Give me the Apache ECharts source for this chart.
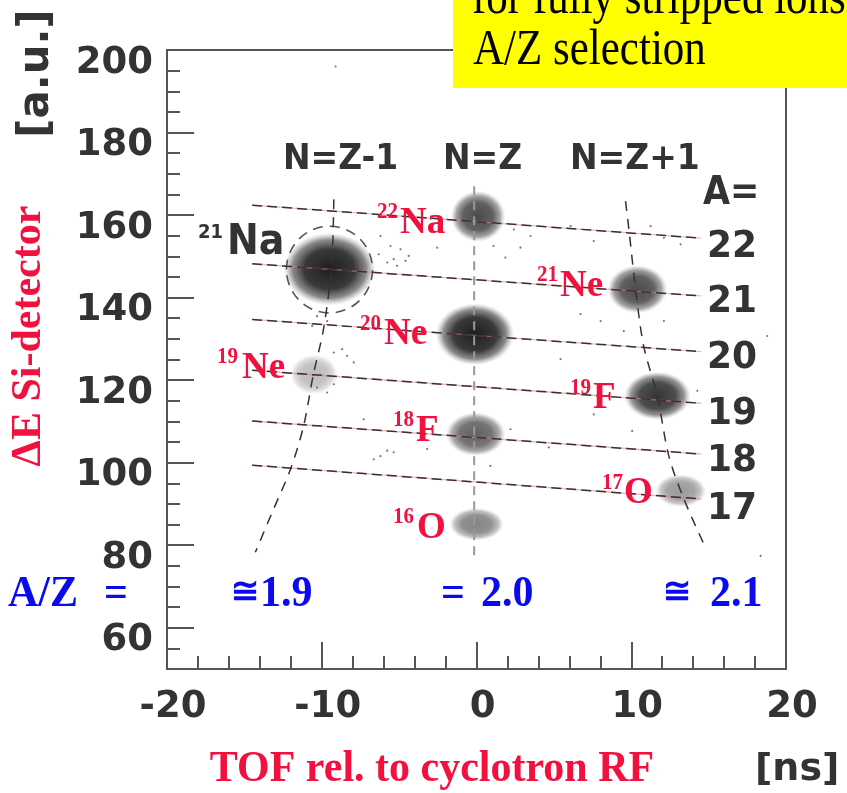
<!DOCTYPE html>
<html><head><meta charset="utf-8">
<script src="https://cdn.jsdelivr.net/npm/echarts@6/dist/echarts.min.js"></script>
<style>html,body{margin:0;padding:0;background:#fff}#c{width:847px;height:793px}</style>
</head><body><div id="c"></div>
<script>
// ---------- data ----------
const isotopes   = ['21Na','22Na','20Ne','21Ne','19Ne','18F','16O','19F','17O'];
const clusterTOF = [-9.5, 0.1, -0.1, 10.4, -10.5, -0.05, 0.0, 11.7, 13.2];
const clusterDE  = [146.9, 159.7, 131.1, 142.0, 121.4, 106.9, 85.1, 116.2, 93.2];
const spreadTOF  = [2.7, 1.6, 2.3, 1.75, 1.4, 1.75, 1.6, 1.95, 1.5];
const spreadDE   = [8.0, 5.6, 6.8, 5.3, 4.4, 4.8, 3.6, 5.3, 3.6];
const intensity  = [1.0, 0.8, 1.0, 0.8, 0.3, 0.7, 0.55, 0.9, 0.45];

const strayTOF = [-6.21,-5.56,-5.35,-4.91,-4.38,-4.59,-5.77,-6.32,-5.13,-2.54,1.10,-10.30,-9.65,-10.62,-9.22,-8.68,-7.93,-8.36,-9.65,-9.22,-10.30,-6.64,-6.21,-5.77,-5.35,-7.29,-3.19,0.90,2.20,2.41,3.49,2.84,1.87,6.08,7.58,11.25,13.19,12.11,6.72,8.02,9.52,12.11,18.79,5.43,10.06,7.58,4.67,14.27,18.36,-9.11];
const strayDE  = [154.9,152.5,149.3,151.7,150.1,148.9,148.5,150.5,147.7,152.1,152.5,135.5,134.3,133.1,126.7,127.5,124.3,125.9,117.0,119.0,118.2,100.8,101.6,102.9,102.5,110.5,103.3,99.2,108.1,156.5,154.9,152.1,149.7,157.3,153.7,157.3,152.9,154.5,136.0,134.3,131.9,134.3,130.7,125.1,107.7,111.7,103.7,117.4,77.4,196.0];

const massNumbers   = [22, 21, 20, 19, 18, 17];
const massLineTOF   = [-14.5, 14.5];
const massLineStart = [162.4, 148.2, 134.7, 122.4, 110.1, 99.4];
const massLineEnd   = [154.4, 140.4, 126.9, 114.4, 102.1, 91.2];

const nzm1TOF = [-9.22, -9.37, -9.89, -10.54, -11.18, -12.02, -13.12, -14.29];
const nzm1DE  = [163.8, 147.3, 132.3, 121.4, 108.8, 98.4, 88.7, 78.3];
const nzTOF   = [-0.15, -0.15];
const nzDE    = [167.0, 77.4];
const nzp1TOF = [9.63, 9.85, 10.28, 10.8, 11.68, 12.43, 13.4, 14.69];
const nzp1DE  = [163.4, 156.5, 142.0, 128.3, 116.2, 101.6, 91.2, 80.3];

const gateTOF = [-9.5], gateDE = [146.8], gateRTOF = [2.78], gateRDE = [10.5];

const xTickLabels = [-20, -10, 0, 10, 20];
const yTickLabels = [60, 80, 100, 120, 140, 160, 180, 200];
const xMajorTicks = [-10, 0, 10];
const yMajorTicks = [60, 80, 100, 120, 140, 160, 180];

// ---------- styling ----------
const DARK = '#333333', RED = '#f2103e', BLUE = '#0a0af0', AXIS = '#555555';
const SANS = 'DejaVu Sans', SERIF = 'Liberation Serif';

function txt(text, x, y, size, family, color, extra) {
  const el = {type: 'text', x: x, y: y, z: 50,
    style: {text: text, fontSize: size, fontFamily: family, fontWeight: 'bold', fill: color,
            align: 'left', verticalAlign: 'middle', textAlign: 'left', textVerticalAlign: 'middle'}};
  if (extra) { Object.assign(el, extra.el || {}); Object.assign(el.style, extra.style || {}); }
  return el;
}

const graphics = [];
// red isotope labels: sup, main, xSup, xMain, capCenterY
const redLabels = [
  ['22','Na',377,400,222.5],['20','Ne',360,384,334],['21','Ne',537,560,285.5],['19','Ne',217,242,367.5],
  ['18','F',393,416,430.5],['16','O',393,417,527.5],['19','F',570,593,398],['17','O',602,624,493]
];
redLabels.forEach(r => {
  graphics.push(txt(r[0], r[2], r[4] - 10, 21, SERIF, RED, {el: {scaleY: 1.05}}));
  graphics.push(txt(r[1], r[3], r[4], 37, SERIF, RED, {el: {scaleY: 1.05}}));
});
const tall = {el: {scaleY: 1.1}};
graphics.push(txt('21', 198, 233, 18, SANS, DARK, tall));
graphics.push(txt('Na', 227, 243, 38, SANS, DARK, tall));
graphics.push(txt('N=Z-1', 283, 160, 33, SANS, DARK, tall));
graphics.push(txt('N=Z', 443, 160, 33, SANS, DARK, tall));
graphics.push(txt('N=Z+1', 570, 160, 33, SANS, DARK, tall));
graphics.push(txt('A=', 703, 194, 35, SANS, DARK, tall));
const aY = [247, 302.5, 358, 414, 461, 509];
massNumbers.forEach((m, i) => graphics.push(txt(String(m), 707, aY[i], 36, SANS, DARK, {el: {scaleY: 1.06}})));
// A/Z row
const az = {el: {scaleY: 1.07}};
graphics.push(txt('A/Z', 8, 594, 42, SERIF, BLUE, az));
graphics.push(txt('=', 104, 594, 42, SERIF, BLUE, az));
graphics.push(txt('\u2245', 231, 594, 34, SERIF, BLUE, az));
graphics.push(txt('1.9', 260, 594, 42, SERIF, BLUE, az));
graphics.push(txt('=', 441, 594, 42, SERIF, BLUE, az));
graphics.push(txt('2.0', 481, 594, 42, SERIF, BLUE, az));
graphics.push(txt('\u2245', 663, 594, 34, SERIF, BLUE, az));
graphics.push(txt('2.1', 710, 594, 42, SERIF, BLUE, az));
// axis names
graphics.push(txt('TOF rel. to cyclotron RF', 432, 770, 42, SERIF, RED, {el: {scaleY: 1.05}, style: {align: 'center', textAlign: 'center'}}));
graphics.push(txt('[ns]', 755, 770, 38, SANS, DARK));
graphics.push(txt('\u0394E Si-detector', 29, 336, 42, SERIF, RED, {el: {rotation: Math.PI / 2}, style: {align: 'center', textAlign: 'center'}}));
graphics.push(txt('[a.u.]', 37, 73.5, 42, SANS, DARK, {el: {rotation: Math.PI / 2}, style: {align: 'center', textAlign: 'center'}}));
// yellow note box
graphics.push({type: 'rect', z: 60, shape: {x: 453, y: 0, width: 394, height: 88}, style: {fill: '#ffff00'}});
graphics.push({type: 'text', z: 61, x: 472, y: -1, scaleY: 1.2, style: {text: 'for fully stripped ions', fontSize: 43, fontFamily: SERIF, fill: '#000', align: 'left', verticalAlign: 'middle', textAlign: 'left', textVerticalAlign: 'middle'}});
graphics.push({type: 'text', z: 61, x: 473, y: 50, scaleY: 1.2, style: {text: 'A/Z selection', fontSize: 43, fontFamily: SERIF, fill: '#000', align: 'left', verticalAlign: 'middle', textAlign: 'left', textVerticalAlign: 'middle'}});

// ---------- series ----------
const clusterData = isotopes.map((n, i) => [clusterTOF[i], clusterDE[i], spreadTOF[i], spreadDE[i], intensity[i]]);
const series = [];
series.push({
  type: 'custom', name: 'clusters', z: 2, data: clusterData,
  renderItem: function (params, api) {
    const c = api.coord([api.value(0), api.value(1)]);
    const s = api.size([api.value(2), api.value(3)]);
    const a = api.value(4);
    const R = 50;
    return {type: 'circle', x: c[0], y: c[1], scaleX: s[0] * 1.1 / R, scaleY: s[1] * 1.1 / R,
      shape: {cx: 0, cy: 0, r: R},
      style: {fill: new echarts.graphic.RadialGradient(0.5, 0.5, 0.5, [
        {offset: 0, color: 'rgba(30,30,30,' + Math.min(1, 1.0 * a) + ')'},
        {offset: 0.55, color: 'rgba(40,40,40,' + (0.92 * a) + ')'},
        {offset: 0.8, color: 'rgba(60,60,60,' + (0.6 * a) + ')'},
        {offset: 0.92, color: 'rgba(90,90,90,' + (0.22 * a) + ')'},
        {offset: 1, color: 'rgba(120,120,120,0)'}])}};
  }
});
series.push({
  type: 'scatter', name: 'stray', z: 3, symbol: 'circle', symbolSize: 2.2,
  itemStyle: {color: '#555'}, data: strayTOF.map((x, i) => [x, strayDE[i]])
});
series.push({
  type: 'custom', name: 'gate', z: 4, data: gateTOF.map((x, i) => [x, gateDE[i], gateRTOF[i], gateRDE[i]]),
  renderItem: function (params, api) {
    const c = api.coord([api.value(0), api.value(1)]);
    const s = api.size([api.value(2), api.value(3)]);
    return {type: 'ellipse', shape: {cx: c[0], cy: c[1], rx: s[0], ry: s[1]},
      style: {fill: 'none', stroke: '#555', lineWidth: 1.6, lineDash: [10, 7]}};
  }
});
massNumbers.forEach((m, i) => {
  const d = [[massLineTOF[0], massLineStart[i]], [massLineTOF[1], massLineEnd[i]]];
  series.push({type: 'line', name: 'A' + m + 'p', z: 5, data: d, symbol: 'none', silent: true,
    lineStyle: {color: 'rgba(235,120,120,0.55)', width: 1.3}});
  series.push({type: 'line', name: 'A' + m, z: 6, data: d, symbol: 'none', silent: true,
    lineStyle: {color: '#333', width: 1.5, type: [10, 5]}});
});
series.push({type: 'line', name: 'N=Z-1', z: 6, smooth: 0.3, symbol: 'none', data: nzm1TOF.map((x, i) => [x, nzm1DE[i]]),
  lineStyle: {color: '#333', width: 1.5, type: [10, 8]}});
series.push({type: 'line', name: 'N=Z', z: 6, symbol: 'none', data: nzTOF.map((x, i) => [x, nzDE[i]]),
  lineStyle: {color: '#999', width: 2, type: [9, 6]}});
series.push({type: 'line', name: 'N=Z+1', z: 6, smooth: 0.3, symbol: 'none', data: nzp1TOF.map((x, i) => [x, nzp1DE[i]]),
  lineStyle: {color: '#333', width: 1.5, type: [10, 8]}});

const labelFont = {fontFamily: SANS, fontWeight: 'bold', fontSize: 37, color: DARK};
const option = {
  animation: false,
  backgroundColor: '#fff',
  grid: {left: 167, top: 50, width: 619, height: 619, show: true, borderColor: AXIS, borderWidth: 2,
         backgroundColor: 'transparent', outerBoundsMode: 'none', containLabel: false},
  xAxis: [
    {type: 'value', position: 'bottom', min: -20, max: 20, interval: 2,
     axisLine: {show: true, onZero: false, lineStyle: {color: AXIS, width: 2}},
     axisTick: {show: true, inside: true, length: 13, lineStyle: {color: AXIS, width: 2}},
     axisLabel: Object.assign({show: true, customValues: xTickLabels, margin: 20, padding: [0, 0, 0, 12],
                               showMinLabel: true, showMaxLabel: true}, labelFont),
     splitLine: {show: false}},
    {type: 'value', position: 'bottom', min: -20, max: 20,
     axisLine: {show: false, onZero: false},
     axisTick: {show: true, inside: true, length: 27, customValues: xMajorTicks, lineStyle: {color: AXIS, width: 2}},
     axisLabel: {show: false}, splitLine: {show: false}}
  ],
  yAxis: [
    {type: 'value', position: 'left', min: 50, max: 200, interval: 5,
     axisLine: {show: true, onZero: false, lineStyle: {color: AXIS, width: 2}},
     axisTick: {show: true, inside: true, length: 13, lineStyle: {color: AXIS, width: 2}},
     axisLabel: Object.assign({show: true, customValues: yTickLabels, margin: 14, verticalAlign: 'top', lineHeight: 26,
                               showMinLabel: true, showMaxLabel: true}, labelFont),
     splitLine: {show: false}},
    {type: 'value', position: 'left', min: 50, max: 200,
     axisLine: {show: false, onZero: false},
     axisTick: {show: true, inside: true, length: 27, customValues: yMajorTicks, lineStyle: {color: AXIS, width: 2}},
     axisLabel: {show: false}, splitLine: {show: false}}
  ],
  series: series,
  graphic: {elements: graphics}
};
const chart = echarts.init(document.getElementById('c'));
chart.setOption(option);
</script>
</body></html>
